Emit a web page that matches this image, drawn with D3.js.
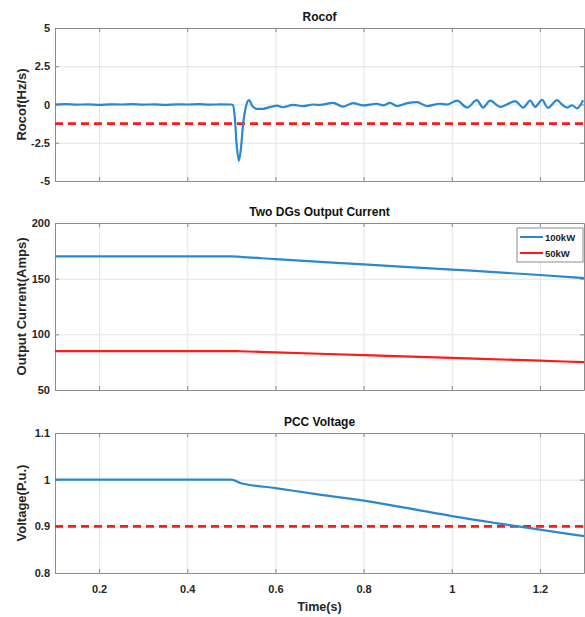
<!DOCTYPE html>
<html>
<head>
<meta charset="utf-8">
<script src="https://cdnjs.cloudflare.com/ajax/libs/d3/7.8.5/d3.min.js"></script>
<style>
  body { margin: 0; background: #fff; }
  svg { display: block; font-family: "Liberation Sans", Arial, sans-serif; }
  .tick text { font-weight: bold; fill: #262626; font-size: 11px; }
  .axis path, .axis line { stroke: #8c8c8c; }
  .grid line { stroke: #e3e3e3; }
  .grid path { display: none; }
</style>
</head>
<body>
<div id="chart"></div>
<script>
// time axis
var timeTicks = [0.2, 0.4, 0.6, 0.8, 1, 1.2];

// Rocof (Hz/s), [time, value]
var rocofData = [
  [0.100, 0.00], [0.125, 0.02], [0.150, -0.01], [0.175, 0.01], [0.200, -0.02],
  [0.225, 0.01], [0.250, 0.00], [0.275, 0.02], [0.300, -0.01], [0.325, 0.01],
  [0.350, -0.02], [0.375, 0.01], [0.400, 0.00], [0.425, 0.02], [0.450, -0.01],
  [0.475, 0.01], [0.500, 0.00], [0.504, -0.05], [0.508, -0.9], [0.512, -2.6],
  [0.517, -3.68], [0.522, -2.8], [0.527, -1.2], [0.533, -0.15], [0.540, 0.28],
  [0.548, -0.12], [0.558, -0.28], [0.572, -0.28], [0.590, -0.15], [0.604, -0.07],
  [0.617, -0.18], [0.640, -0.02], [0.663, -0.11], [0.685, 0.00], [0.701, -0.03],
  [0.731, 0.11], [0.753, -0.14], [0.776, 0.09], [0.799, -0.06], [0.830, 0.05],
  [0.844, -0.06], [0.860, 0.10], [0.876, -0.10], [0.899, 0.09], [0.921, 0.15],
  [0.944, -0.10], [0.973, 0.05], [0.989, 0.00], [1.012, 0.25], [1.035, -0.20],
  [1.057, 0.28], [1.071, -0.20], [1.087, 0.25], [1.110, -0.15], [1.125, 0.00],
  [1.144, 0.22], [1.162, -0.20], [1.178, 0.25], [1.189, -0.15], [1.205, 0.30],
  [1.218, -0.22], [1.239, 0.28], [1.250, 0.00], [1.262, -0.20], [1.273, -0.05],
  [1.284, -0.25], [1.298, 0.28]
];
var rocofLimit = -1.25;
var rocofTicks = [-5, -2.5, 0, 2.5, 5];

// DG output currents (Amps)
var current100 = [
  [0.1, 170], [0.5, 170], [0.52, 169.6], [0.6, 167.5], [0.8, 162.8],
  [1.0, 158.2], [1.2, 153.3], [1.3, 150.5]
];
var current50 = [
  [0.1, 85], [0.5, 85], [0.52, 84.8], [0.6, 83.8], [0.8, 81.3],
  [1.0, 78.8], [1.2, 76.3], [1.3, 75]
];
var currentTicks = [50, 100, 150, 200];
var legendNames = ['100kW', '50kW'];

// PCC voltage (p.u.)
var voltageData = [
  [0.1, 1.0], [0.5, 1.0], [0.505, 0.999], [0.52, 0.993], [0.6, 0.982],
  [0.7, 0.968], [0.8, 0.955], [0.9, 0.939], [1.0, 0.922], [1.1, 0.907],
  [1.2, 0.893], [1.3, 0.879]
];
var voltageLimit = 0.9;
var voltageTicks = [0.8, 0.9, 1, 1.1];

var W = 585, H = 617;
var blue = '#2b87cf', red = '#ff1a1a';

// plain number text, with an ascii hyphen for negatives
function plain (d) { return String(d); }

var svg = d3.select('#chart').append('svg')
  .attr('width', W).attr('height', H);

var x = d3.scaleLinear().domain([0.1, 1.3]).range([55, 584]);

var panels = [
  { title: 'Rocof', label: 'Rocof(Hz/s)', domain: [-5, 5], range: [181, 28],
    ticks: rocofTicks },
  { title: 'Two DGs Output Current', label: 'Output  Current(Amps)', domain: [50, 200],
    range: [390, 223], ticks: currentTicks },
  { title: 'PCC Voltage', label: 'Voltage(P.u.)', domain: [0.8, 1.1], range: [573, 433],
    ticks: voltageTicks }
];

panels.forEach(function (p, i) {
  var y = p.y = d3.scaleLinear().domain(p.domain).range(p.range);
  var top = p.range[1], bot = p.range[0];
  var g = p.g = svg.append('g');

  // grid
  g.append('g').attr('class', 'grid')
    .attr('transform', 'translate(0,' + bot + ')')
    .call(d3.axisBottom(x).tickValues(timeTicks).tickSize(-(bot - top)).tickFormat(''));
  g.append('g').attr('class', 'grid')
    .attr('transform', 'translate(55,0)')
    .call(d3.axisLeft(y).tickValues(p.ticks).tickSize(-(584 - 55)).tickFormat(''));

  // box + inward ticks
  g.append('g').attr('class', 'axis')
    .attr('transform', 'translate(0,' + bot + ')')
    .call(d3.axisBottom(x).tickValues(timeTicks).tickSizeInner(-4).tickSizeOuter(0)
      .tickPadding(12).tickFormat(i === 2 ? plain : ''));
  g.append('g').attr('class', 'axis')
    .attr('transform', 'translate(0,' + top + ')')
    .call(d3.axisTop(x).tickValues(timeTicks).tickSizeInner(-4).tickSizeOuter(0).tickFormat(''));
  g.append('g').attr('class', 'axis')
    .attr('transform', 'translate(55,0)')
    .call(d3.axisLeft(y).tickValues(p.ticks).tickSizeInner(-4).tickSizeOuter(0)
      .tickPadding(5).tickFormat(plain));
  g.append('g').attr('class', 'axis')
    .attr('transform', 'translate(584,0)')
    .call(d3.axisRight(y).tickValues(p.ticks).tickSizeInner(-4).tickSizeOuter(0).tickFormat(''));

  // title
  svg.append('text')
    .attr('x', (55 + 584) / 2).attr('y', top - 7)
    .attr('text-anchor', 'middle')
    .style('font-weight', 'bold').style('font-size', '12px').style('fill', '#111')
    .text(p.title);

  // y label
  svg.append('text')
    .attr('transform', 'translate(26,' + ((top + bot) / 2) + ') rotate(-90)')
    .attr('text-anchor', 'middle')
    .style('font-weight', 'bold').style('font-size', '13px').style('fill', '#262626')
    .text(p.label);
});

svg.append('text')
  .attr('x', (55 + 584) / 2).attr('y', 611)
  .attr('text-anchor', 'middle')
  .style('font-weight', 'bold').style('font-size', '12.5px').style('fill', '#262626')
  .text('Time(s)');

function drawLine (p, data, color, curve, width) {
  var line = d3.line()
    .x(function (d) { return x(d[0]); })
    .y(function (d) { return p.y(d[1]); })
    .curve(curve || d3.curveLinear);
  p.g.append('path').datum(data)
    .attr('d', line)
    .attr('fill', 'none')
    .attr('stroke', color)
    .attr('stroke-width', width || 2)
    .attr('stroke-linejoin', 'round');
}

function drawLimit (p, value) {
  p.g.append('line')
    .attr('x1', x(0.1)).attr('x2', x(1.3))
    .attr('y1', p.y(value)).attr('y2', p.y(value))
    .attr('stroke', red).attr('stroke-width', 2.6)
    .attr('stroke-dasharray', '8,5');
}

// Rocof
drawLimit(panels[0], rocofLimit);
drawLine(panels[0], rocofData, blue, d3.curveMonotoneX, 2.2);

// currents
drawLine(panels[1], current100, blue, d3.curveMonotoneX, 2.2);
drawLine(panels[1], current50, red, d3.curveMonotoneX, 2.2);

// legend
var lg = svg.append('g');
lg.append('rect')
  .attr('x', 517).attr('y', 228).attr('width', 66).attr('height', 34)
  .attr('fill', '#fff').attr('stroke', '#8c8c8c');
[blue, red].forEach(function (c, i) {
  var ly = 237 + i * 16;
  lg.append('line').attr('x1', 520).attr('x2', 543).attr('y1', ly).attr('y2', ly)
    .attr('stroke', c).attr('stroke-width', 2);
  lg.append('text').attr('x', 545).attr('y', ly + 3.5)
    .style('font-size', '9.5px').style('font-weight', 'bold').style('fill', '#222')
    .text(legendNames[i]);
});

// voltage
drawLimit(panels[2], voltageLimit);
drawLine(panels[2], voltageData, blue, d3.curveMonotoneX, 2.2);
</script>
</body>
</html>
